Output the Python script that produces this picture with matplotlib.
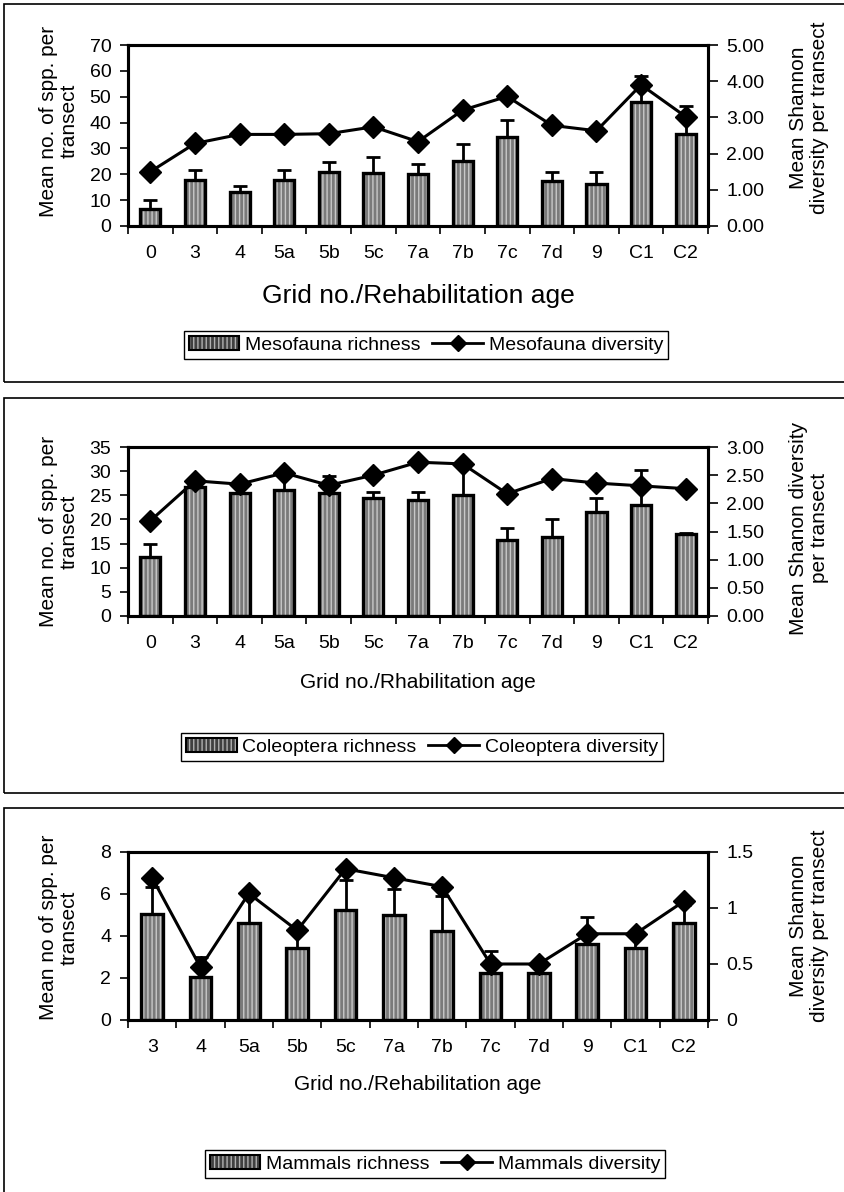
import numpy as np
import matplotlib
matplotlib.use("Agg")
import matplotlib.pyplot as plt
from matplotlib.patches import Patch, Rectangle
from matplotlib.lines import Line2D

plt.rcParams['font.family'] = ['Liberation Sans', 'DejaVu Sans']

# panel 1 - mesofauna
meso_grids = ["0", "3", "4", "5a", "5b", "5c", "7a", "7b", "7c", "7d", "9", "C1", "C2"]
meso_rich = [6.7, 17.6, 13.3, 17.9, 21.0, 20.6, 20.3, 25.3, 34.5, 17.3, 16.2, 48.0, 35.5]
meso_rich_err = [10.1, 21.7, 15.6, 21.7, 24.9, 26.5, 24.0, 31.9, 41.0, 20.8, 21.0, 58.2, 46.5]
meso_div = [1.50, 2.28, 2.53, 2.53, 2.55, 2.74, 2.33, 3.20, 3.58, 2.78, 2.63, 3.90, 3.02]

# panel 2 - coleoptera
cole_grids = ["0", "3", "4", "5a", "5b", "5c", "7a", "7b", "7c", "7d", "9", "C1", "C2"]
cole_rich = [12.2, 26.7, 25.5, 26.1, 25.5, 24.5, 24.0, 25.0, 15.8, 16.4, 21.5, 23.0, 16.9]
cole_rich_err = [14.9, 26.7, 25.5, 29.3, 28.9, 25.7, 25.6, 31.0, 18.2, 20.1, 24.4, 30.2, 17.2]
cole_div = [1.69, 2.40, 2.34, 2.54, 2.32, 2.50, 2.73, 2.70, 2.17, 2.44, 2.36, 2.31, 2.26]

# panel 3 - mammals
mamm_grids = ["3", "4", "5a", "5b", "5c", "7a", "7b", "7c", "7d", "9", "C1", "C2"]
mamm_rich = [5.05, 2.05, 4.63, 3.44, 5.23, 5.02, 4.24, 2.23, 2.23, 3.63, 3.44, 4.63]
mamm_rich_err = [6.33, 2.98, 5.9, 4.2, 6.68, 6.23, 5.89, 3.28, 2.6, 4.91, 4.0, 5.5]
mamm_div = [1.27, 0.47, 1.13, 0.80, 1.35, 1.27, 1.19, 0.50, 0.50, 0.77, 0.77, 1.06]

W, H = 844, 1192
fig = plt.figure(figsize=(W / 100, H / 100), dpi=100)


def fx(px):
    return px / W


def fy(py):
    return 1 - py / H


def panel(top, bottom, grids, rich, rich_err, div, ymax, ystep, rmax, rticks, rlabels,
          ylab_l, ylab_r, xlab, xlab_y, xlab_size, leg_names, leg_center, ly_l, ly_r):
    ax = fig.add_axes([fx(128), fy(bottom), fx(708) - fx(128), fy(top) - fy(bottom)])
    x = np.arange(len(grids))
    rich = np.array(rich)
    err = np.array(rich_err) - rich
    ax.bar(x, rich, width=0.45, color='#7a7a7a', edgecolor='#c8c8c8', hatch='||||',
           linewidth=0, zorder=2)
    ax.bar(x, rich, width=0.45, fill=False, edgecolor='black', linewidth=2.4, zorder=3)
    ax.errorbar(x, rich, yerr=[np.zeros_like(err), err], fmt='none', ecolor='black',
                elinewidth=2, capsize=5, capthick=2, zorder=4)
    ax.set_xlim(-0.5, len(grids) - 0.5)
    ax.set_ylim(0, ymax)
    ax.set_yticks(np.arange(0, ymax + 0.01, ystep))
    ax.set_xticks(x)
    ax.set_xticklabels(grids)
    ax.set_xticks(np.arange(-0.5, len(grids), 1.0), minor=True)
    ax.tick_params(axis='x', which='major', length=0, pad=14, labelsize=14)
    ax.tick_params(axis='x', which='minor', length=6, width=1.2, direction='out')
    ax.tick_params(axis='y', length=6, width=1.2, direction='out', labelsize=14, pad=6)
    for s in ax.spines.values():
        s.set_linewidth(2.2)
    ax.set_ylabel(ylab_l, fontsize=15, linespacing=1.1)
    ax.yaxis.set_label_coords(-0.085, ly_l)

    ax2 = ax.twinx()
    ax2.plot(x, div, color='black', lw=2.2, marker='D', markersize=11, zorder=5)
    ax2.set_ylim(0, rmax)
    ax2.set_yticks(rticks)
    ax2.set_yticklabels(rlabels)
    ax2.tick_params(axis='y', length=7, width=1.2, direction='out', labelsize=14, pad=6)
    for s in ax2.spines.values():
        s.set_linewidth(2.2)
    ax2.set_ylabel(ylab_r, fontsize=15, linespacing=1.1, rotation=90)
    ax2.yaxis.set_label_coords(1.14, ly_r)

    fig.text(fx(418), fy(xlab_y), xlab, ha='center', va='center', fontsize=xlab_size)

    h_bar = (Patch(facecolor='#404040', edgecolor='#b0b0b0', hatch='||||', lw=0),
             Patch(fill=False, edgecolor='black', lw=1.5))
    h_line = Line2D([], [], color='black', lw=2, marker='D', markersize=8)
    leg = fig.legend([h_bar, h_line], leg_names, loc='center',
                     bbox_to_anchor=(fx(leg_center[0]), fy(leg_center[1])), ncol=2,
                     fontsize=14, frameon=True, fancybox=False, framealpha=1,
                     edgecolor='black', handlelength=2.6, handletextpad=0.3,
                     columnspacing=0.6, borderpad=0.25)
    leg.get_frame().set_linewidth(1.0)
    return ax, ax2


panel(45, 226, meso_grids, meso_rich, meso_rich_err, meso_div, 70, 10, 5.0,
      [0, 1, 2, 3, 4, 5], ["0.00", "1.00", "2.00", "3.00", "4.00", "5.00"],
      "Mean no. of spp. per\ntransect", "Mean Shannon\ndiversity per transect",
      "Grid no./Rehabilitation age", 296, 19,
      ["Mesofauna richness", "Mesofauna diversity"], (426, 345), 0.58, 0.6)

panel(447, 616, cole_grids, cole_rich, cole_rich_err, cole_div, 35, 5, 3.0,
      [0, 0.5, 1, 1.5, 2, 2.5, 3],
      ["0.00", "0.50", "1.00", "1.50", "2.00", "2.50", "3.00"],
      "Mean no. of spp. per\ntransect", "Mean Shanon diversity\nper transect",
      "Grid no./Rhabilitation age", 683, 15,
      ["Coleoptera richness", "Coleoptera diversity"], (422, 747), 0.5, 0.52)

panel(852, 1020, mamm_grids, mamm_rich, mamm_rich_err, mamm_div, 8, 2, 1.5,
      [0, 0.5, 1, 1.5], ["0", "0.5", "1", "1.5"],
      "Mean no of spp. per\ntransect", "Mean Shannon\ndiversity per transect",
      "Grid no./Rehabilitation age", 1085, 15,
      ["Mammals richness", "Mammals diversity"], (435, 1164), 0.55, 0.56)

# panel frames
for top, bottom in [(4, 382), (398, 793), (808, 1200)]:
    fig.add_artist(Rectangle((fx(4), fy(bottom)), 1.02, fy(top) - fy(bottom),
                             transform=fig.transFigure, fill=False, lw=1.2,
                             edgecolor='black'))

fig.savefig("out.png", dpi=100)
